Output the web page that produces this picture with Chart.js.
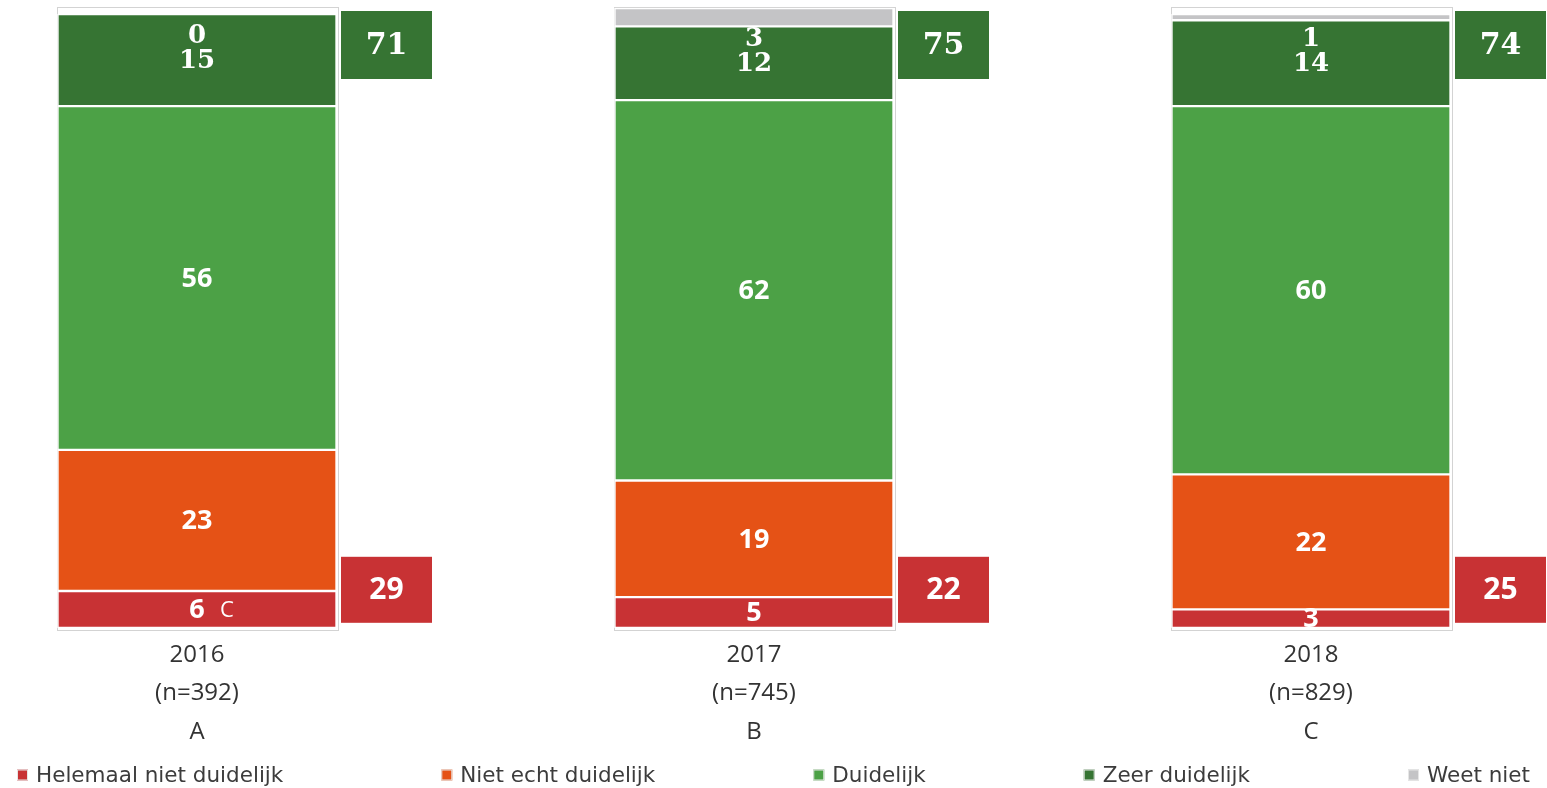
<!DOCTYPE html>
<html>
<head>
<meta charset="utf-8">
<script src="https://cdn.jsdelivr.net/npm/chart.js@4.4.1/dist/chart.umd.min.js"></script>
<style>
  html, body { margin: 0; padding: 0; background: #fff; }
  #wrap { width: 1547px; height: 788px; position: relative; }
</style>
</head>
<body>
<div id="wrap"><canvas id="c"></canvas></div>
<script>
// Survey years and their sub-labels
const years = ['2016', '2017', '2018'];
const sampleSizes = ['(n=392)', '(n=745)', '(n=829)'];
const groupLetters = ['A', 'B', 'C'];

// Answer categories (bottom to top of each stack)
const seriesNames = ['Helemaal niet duidelijk', 'Niet echt duidelijk', 'Duidelijk', 'Zeer duidelijk', 'Weet niet'];
const helemaalNiet = [6, 5, 3];
const nietEcht = [23, 19, 22];
const duidelijk = [56, 62, 60];
const zeerDuidelijk = [15, 12, 14];
const weetNiet = [0, 3, 1];

// Summary boxes beside each bar
const totalClear = [71, 75, 74];
const totalUnclear = [29, 22, 25];

// Significance markers next to the bottom segment
const sigHelemaalNiet = ['C', '', ''];

const seriesColors = ['#c83234', '#e55216', '#4ca146', '#367433', '#c4c4c6'];
const seriesValues = [helemaalNiet, nietEcht, duidelijk, zeerDuidelijk, weetNiet];

const SANS = '"Open Sans", "DejaVu Sans", sans-serif';
const SERIF = '"DejaVu Serif", serif';

const stackMax = Math.max(...years.map((_, i) => seriesValues.reduce((s, arr) => s + arr[i], 0)));

// Light frame round each stack plus the total boxes on the right
const framePlugin = {
  id: 'frames',
  beforeDatasetsDraw(chart) {
    const ctx = chart.ctx, area = chart.chartArea;
    const bars = chart.getDatasetMeta(0).data;
    ctx.save();
    ctx.strokeStyle = '#d3d3d3';
    ctx.lineWidth = 1;
    bars.forEach(bar => {
      const l = bar.x - bar.width / 2 - 1;
      const r = bar.x + bar.width / 2 + 1;
      ctx.strokeRect(Math.round(l) + 0.5, Math.round(area.top - 1.5) + 0.5,
                     Math.round(r - l), Math.round(area.bottom - area.top + 3));
    });
    ctx.restore();
  },
  afterDatasetsDraw(chart) {
    const ctx = chart.ctx, area = chart.chartArea;
    const bars = chart.getDatasetMeta(0).data;
    ctx.save();
    ctx.textAlign = 'center';
    ctx.textBaseline = 'middle';
    bars.forEach((bar, i) => {
      const bx = bar.x + bar.width / 2 + 4.5;
      const bw = 91;
      // upper box: clear
      const ty = area.top + 3, th = 68;
      ctx.fillStyle = seriesColors[3];
      ctx.fillRect(bx, ty, bw, th);
      ctx.fillStyle = '#fff';
      ctx.font = '700 30px ' + SERIF;
      ctx.fillText(String(totalClear[i]), bx + bw / 2, ty + th / 2 + 1);
      // lower box: unclear
      const lh = 66, ly = area.bottom - 5 - lh;
      ctx.fillStyle = seriesColors[0];
      ctx.fillRect(bx, ly, bw, lh);
      ctx.fillStyle = '#fff';
      ctx.font = '700 30px ' + SANS;
      ctx.fillText(String(totalUnclear[i]), bx + bw / 2, ly + lh / 2 + 1);
    });
    ctx.restore();
  }
};

// Value labels inside the segments
const labelPlugin = {
  id: 'segLabels',
  afterDatasetsDraw(chart) {
    const ctx = chart.ctx;
    ctx.save();
    ctx.textAlign = 'center';
    ctx.textBaseline = 'middle';
    ctx.fillStyle = '#fff';
    years.forEach((_, i) => {
      const segs = seriesValues.map((_, d) => chart.getDatasetMeta(d).data[i]);
      const mid = el => (el.y + el.base) / 2;
      const x = segs[0].x;
      // lower three categories
      [0, 1, 2].forEach(d => {
        ctx.font = '700 27px ' + SANS;
        const y = mid(segs[d]) + 1;
        ctx.fillText(String(seriesValues[d][i]), x, y);
        if (d === 0 && sigHelemaalNiet[i]) {
          ctx.font = '400 22px ' + SANS;
          ctx.textAlign = 'left';
          ctx.fillText(sigHelemaalNiet[i], x + 23, y);
          ctx.textAlign = 'center';
        }
      });
      // top category and "don't know" just above it
      ctx.font = '700 26px ' + SERIF;
      const yz = mid(segs[3]) + 1;
      ctx.fillText(String(seriesValues[3][i]), x, yz);
      ctx.fillText(String(seriesValues[4][i]), x, yz - 25);
    });
    ctx.restore();
  }
};

// Legend row across the bottom
const legendPlugin = {
  id: 'bottomLegend',
  afterDraw(chart) {
    const ctx = chart.ctx;
    ctx.save();
    ctx.font = '21.5px "DejaVu Sans", sans-serif';
    ctx.textBaseline = 'middle';
    ctx.textAlign = 'left';
    const box = 11, gapText = 8, gapItem = 158;
    const widths = seriesNames.map(t => box + gapText + ctx.measureText(t).width);
    const total = widths.reduce((a, b) => a + b, 0) + gapItem * (widths.length - 1);
    let x = (chart.width - total) / 2;
    const cy = 775;
    seriesNames.forEach((t, k) => {
      ctx.fillStyle = seriesColors[k];
      ctx.fillRect(x, cy - box / 2, box, box);
      ctx.strokeStyle = '#e6e6e6';
      ctx.lineWidth = 1;
      ctx.strokeRect(x + 0.5, cy - box / 2 + 0.5, box - 1, box - 1);
      ctx.fillStyle = '#3c3c3c';
      ctx.fillText(t, x + box + gapText, cy + 1);
      x += widths[k] + gapItem;
    });
    ctx.restore();
  }
};

new Chart(document.getElementById('c'), {
  type: 'bar',
  data: {
    labels: years,
    datasets: seriesNames.map((name, d) => ({
      label: name,
      data: seriesValues[d],
      backgroundColor: seriesColors[d],
      borderColor: '#ffffff',
      borderWidth: 1.5,
      borderSkipped: false,
      barThickness: 279,
      clip: false
    }))
  },
  options: {
    responsive: true,
    maintainAspectRatio: false,
    animation: false,
    layout: { padding: { left: 197, right: 236, top: 8, bottom: 37 } },
    plugins: {
      legend: { display: false },
      tooltip: { enabled: false }
    },
    scales: {
      x: {
        stacked: true,
        offset: false,
        grid: { display: false },
        border: { display: false },
        ticks: {
          padding: 0,
          color: '#333',
          font: { family: SANS, size: 24, lineHeight: 1.6 },
          callback: (v, i) => [years[i], sampleSizes[i], groupLetters[i]]
        }
      },
      y: {
        stacked: true,
        display: false,
        min: 0,
        max: stackMax
      }
    }
  },
  plugins: [framePlugin, labelPlugin, legendPlugin]
});
</script>
</body>
</html>
